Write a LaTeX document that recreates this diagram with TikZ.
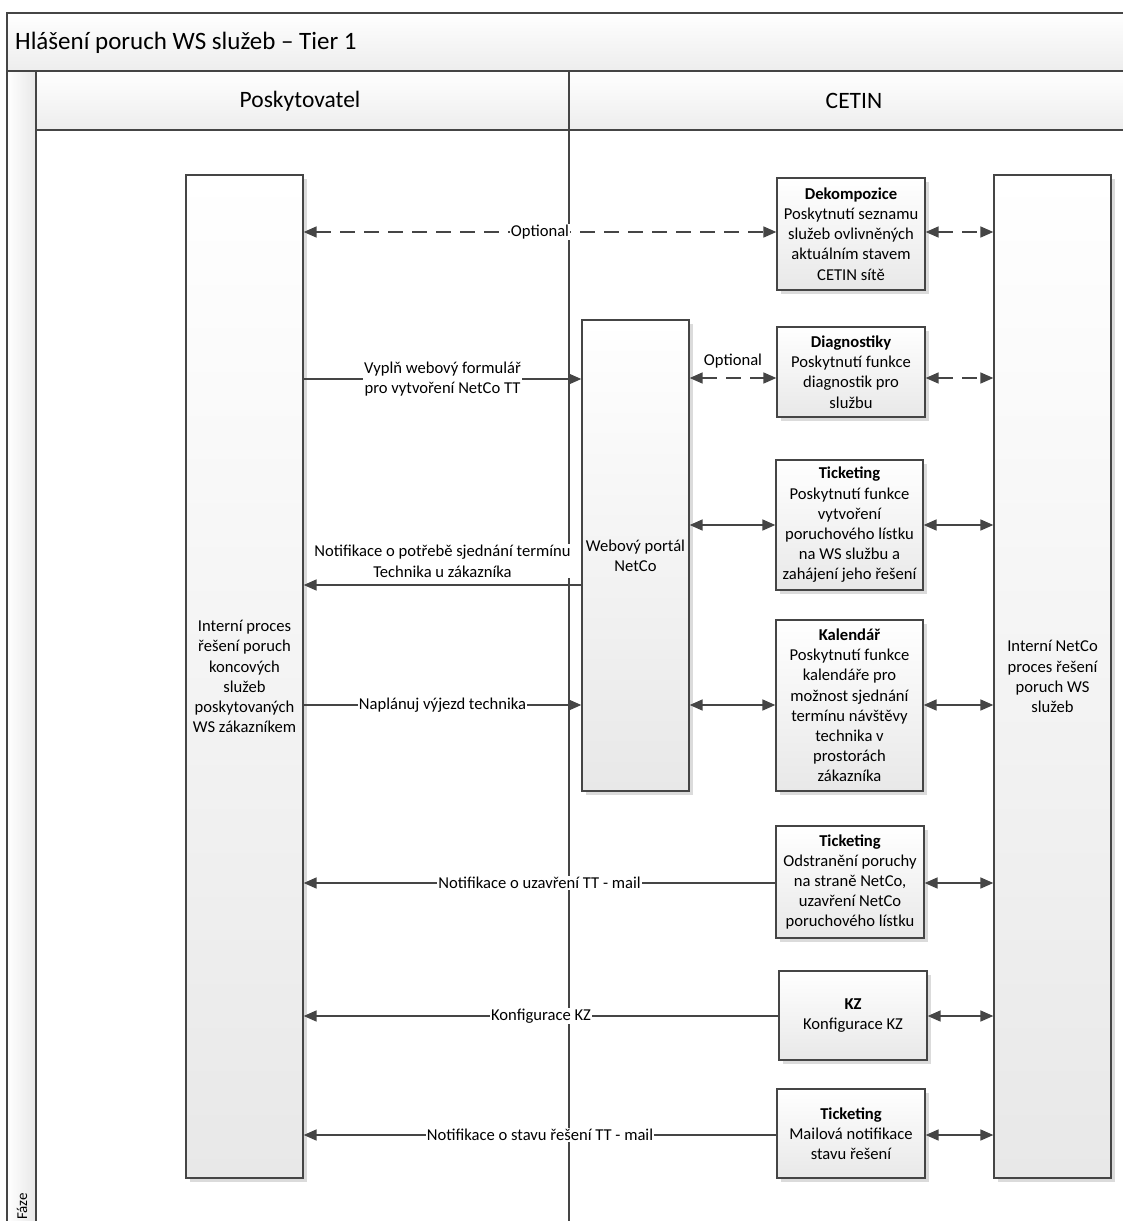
\documentclass[tikz,border=0pt]{standalone}
\usepackage{fontspec}
\setmainfont{Carlito}
\usetikzlibrary{arrows.meta,shadows}
\definecolor{lc}{HTML}{454545}
\newcommand{\fsmall}{\fontsize{16.6}{20.2}\selectfont}
\newcommand{\fbig}{\fontsize{25}{29}\selectfont}
\newcommand{\fhead}{\fontsize{23.5}{28}\selectfont}
\newcommand{\ftiny}{\fontsize{15}{18}\selectfont}
\begin{document}
\begin{tikzpicture}[x=1pt,y=-1pt,
  box/.style={draw=lc, line width=1.3pt, top color=white, bottom color=black!9,
    drop shadow={shadow xshift=3.5pt, shadow yshift=-3.5pt, fill=black!14, opacity=1},
    align=center, inner sep=0pt, font=\fsmall, text=black},
  conn/.style={draw=lc, line width=1.6pt, >={Triangle[length=13pt,width=11pt]}},
  dsh/.style={dash pattern=on 15pt off 9pt},
  lbl/.style={fill=white, inner sep=1pt, font=\fsmall, align=center, text=black},
  frame/.style={draw=lc, line width=1.4pt}
]
\useasboundingbox (0,0) rectangle (1123,1221);
\clip (0,0) rectangle (1123,1221);
% background bands
\fill[white] (0,0) rectangle (1123,1221);
\shade[top color=white, bottom color=black!7] (7,13) rectangle (1130,71);
\shade[top color=white, bottom color=black!7] (36,71) rectangle (1130,130);
\shade[left color=white, right color=black!9] (7,71) rectangle (36,1230);
\draw[frame] (7,13) rectangle (1130,1230);
\draw[frame] (7,71) -- (1130,71);
\draw[frame] (36,130) -- (1130,130);
\draw[frame] (36,71) -- (36,1230);
\draw[frame] (569,71) -- (569,1230);
% texts of frame
\node[anchor=west, font=\fbig, inner sep=0pt] (title) at (15,43) {Hlášení poruch WS služeb – Tier 1};
\node[font=\fhead, inner sep=0pt] (h1) at (300,101) {Poskytovatel};
\node[font=\fhead, inner sep=0pt] (h2) at (854,101) {CETIN};
\node[rotate=90, anchor=west, font=\ftiny, inner sep=0pt] (faze) at (22,1220) {Fáze};
% boxes
\node[box, minimum width=117pt, minimum height=1003pt] (lp) at (244.5,676.5)
  {Interní proces\\řešení poruch\\koncových\\služeb\\poskytovaných\\WS zákazníkem};
\node[box, minimum width=107pt, minimum height=471pt] (wp) at (635.5,555.5)
  {Webový portál\\NetCo};
\node[box, minimum width=117pt, minimum height=1003pt] (rp) at (1052.5,676.5)
  {Interní NetCo\\proces řešení\\poruch WS\\služeb};
\node[box, minimum width=148pt, minimum height=112pt] (dek) at (851,234)
  {\textbf{Dekompozice}\\Poskytnutí seznamu\\služeb ovlivněných\\aktuálním stavem\\CETIN sítě};
\node[box, minimum width=148pt, minimum height=90pt] (dia) at (851,372)
  {\textbf{Diagnostiky}\\Poskytnutí funkce\\diagnostik pro\\službu};
\node[box, minimum width=147pt, minimum height=130pt] (tk1) at (849.5,525)
  {\textbf{Ticketing}\\Poskytnutí funkce\\vytvoření\\poruchového lístku\\na WS službu a\\zahájení jeho řešení};
\node[box, minimum width=147pt, minimum height=171pt] (kal) at (849.5,705.5)
  {\textbf{Kalendář}\\Poskytnutí funkce\\kalendáře pro\\možnost sjednání\\termínu návštěvy\\technika v\\prostorách\\zákazníka};
\node[box, minimum width=148pt, minimum height=112pt] (tk2) at (850,882)
  {\textbf{Ticketing}\\Odstranění poruchy\\na straně NetCo,\\uzavření NetCo\\poruchového lístku};
\node[box, minimum width=148pt, minimum height=89pt] (kz) at (853,1015.5)
  {\textbf{KZ}\\Konfigurace KZ};
\node[box, minimum width=148pt, minimum height=89pt] (tk3) at (851,1133.5)
  {\textbf{Ticketing}\\Mailová notifikace\\stavu řešení};
% y levels
\coordinate (yA) at (0,232);
\coordinate (yB) at (0,379);
\coordinate (yC) at (0,378);
\coordinate (yD) at (0,525);
\coordinate (yE) at (0,585);
\coordinate (yF) at (0,705);
\coordinate (yG) at (0,883);
\coordinate (yH) at (0,1016);
\coordinate (yI) at (0,1135);
% connectors
\draw[conn, dsh, <->] (lp.east |- yA) -- node[lbl] (o1) {Optional} (dek.west |- yA);
\draw[conn, dsh, <->] (dek.east |- yA) -- (rp.west |- yA);
\draw[conn, ->] (lp.east |- yB) -- node[lbl] (l1) {Vyplň webový formulář\\pro vytvoření NetCo TT} (wp.west |- yB);
\draw[conn, dsh, <->] (wp.east |- yC) -- node[lbl, above=8pt, fill=none] (o2) {Optional} (dia.west |- yC);
\draw[conn, dsh, <->] (dia.east |- yC) -- (rp.west |- yC);
\draw[conn, <->] (wp.east |- yD) -- (tk1.west |- yD);
\draw[conn, <->] (tk1.east |- yD) -- (rp.west |- yD);
\draw[conn, ->] (wp.west |- yE) -- node[lbl, above=6pt] (l2) {Notifikace o potřebě sjednání termínu\\Technika u zákazníka} (lp.east |- yE);
\draw[conn, ->] (lp.east |- yF) -- node[lbl] (l3) {Naplánuj výjezd technika} (wp.west |- yF);
\draw[conn, <->] (wp.east |- yF) -- (kal.west |- yF);
\draw[conn, <->] (kal.east |- yF) -- (rp.west |- yF);
\draw[conn, ->] (tk2.west |- yG) -- node[lbl] (l4) {Notifikace o uzavření TT - mail} (lp.east |- yG);
\draw[conn, <->] (tk2.east |- yG) -- (rp.west |- yG);
\draw[conn, ->] (kz.west |- yH) -- node[lbl] (l5) {Konfigurace KZ} (lp.east |- yH);
\draw[conn, <->] (kz.east |- yH) -- (rp.west |- yH);
\draw[conn, ->] (tk3.west |- yI) -- node[lbl] (l6) {Notifikace o stavu řešení TT - mail} (lp.east |- yI);
\draw[conn, <->] (tk3.east |- yI) -- (rp.west |- yI);
\end{tikzpicture}
\end{document}
